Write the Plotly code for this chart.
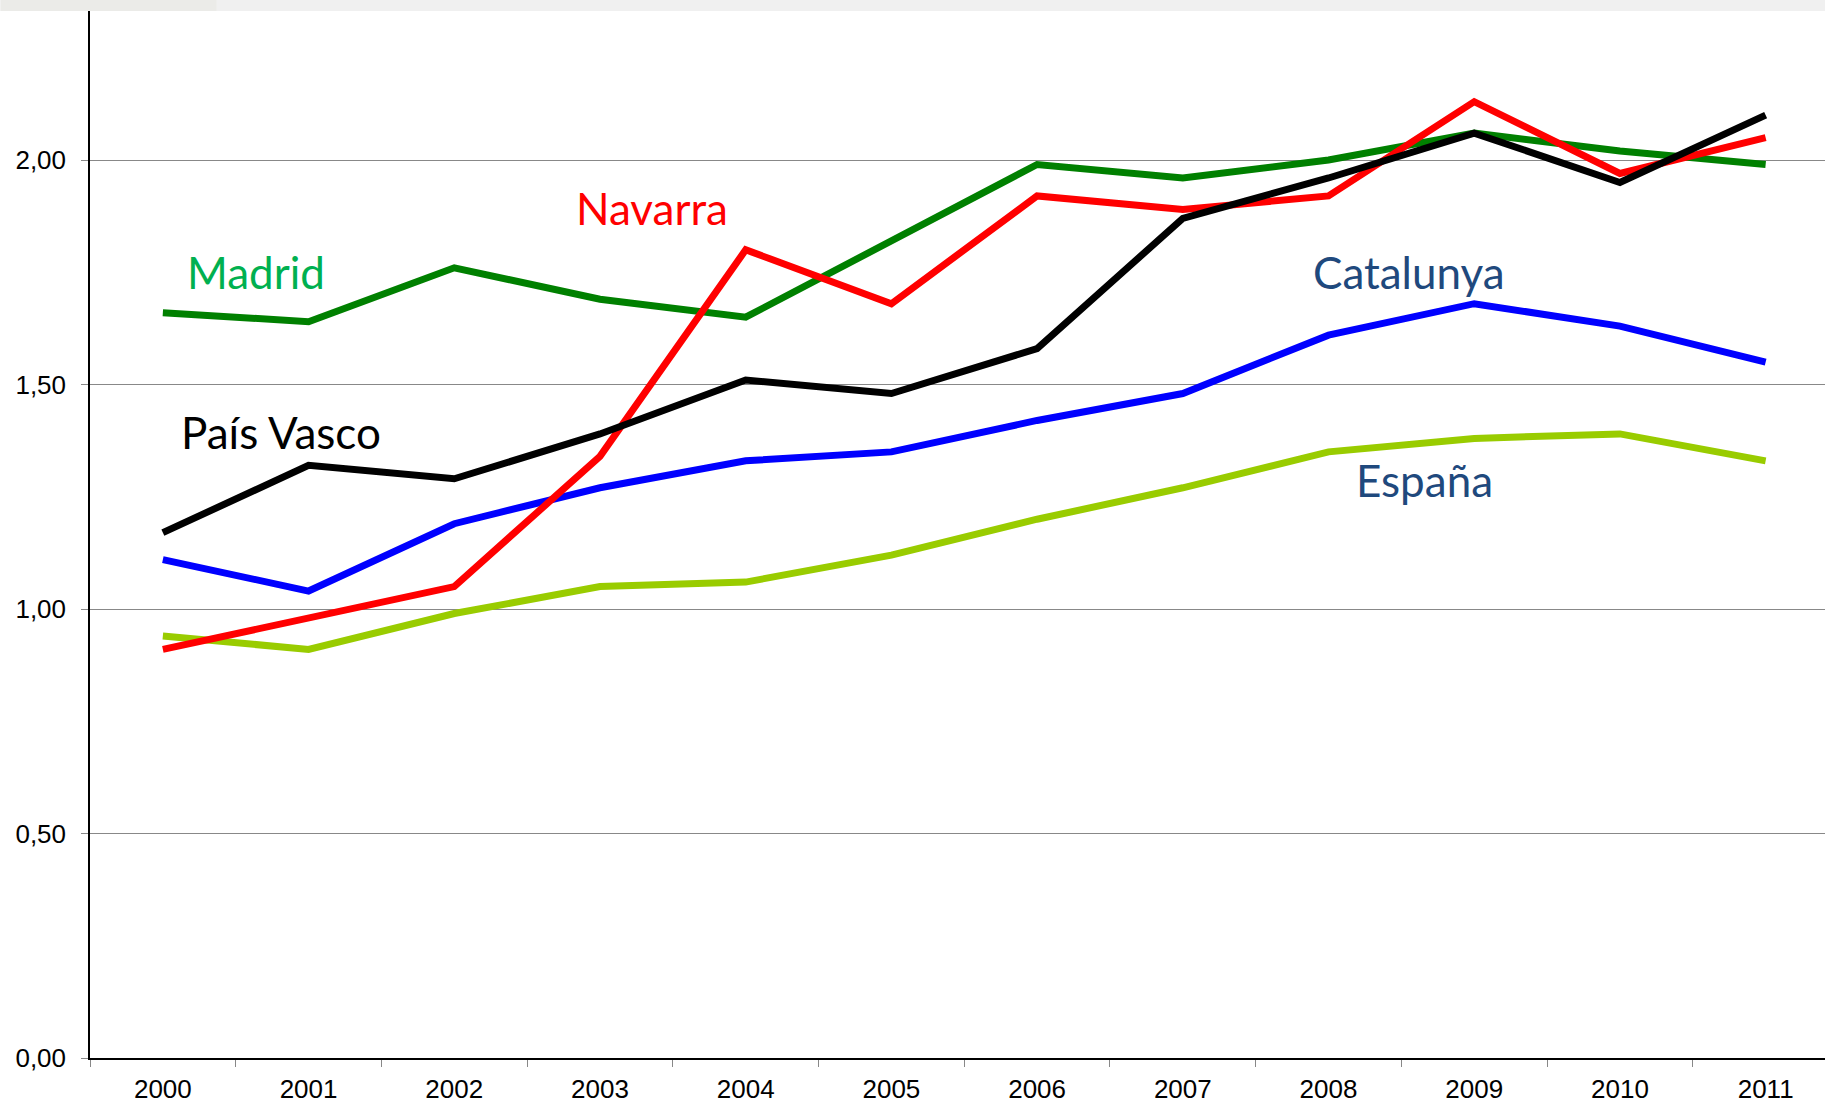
import plotly.graph_objects as go

years = ["2000", "2001", "2002", "2003", "2004", "2005", "2006", "2007", "2008", "2009", "2010", "2011"]

espana = [0.94, 0.91, 0.99, 1.05, 1.06, 1.12, 1.20, 1.27, 1.35, 1.38, 1.39, 1.33]
catalunya = [1.11, 1.04, 1.19, 1.27, 1.33, 1.35, 1.42, 1.48, 1.61, 1.68, 1.63, 1.55]
madrid = [1.66, 1.64, 1.76, 1.69, 1.65, 1.82, 1.99, 1.96, 2.00, 2.06, 2.02, 1.99]
navarra = [0.91, 0.98, 1.05, 1.34, 1.80, 1.68, 1.92, 1.89, 1.92, 2.13, 1.97, 2.05]
pais_vasco = [1.17, 1.32, 1.29, 1.39, 1.51, 1.48, 1.58, 1.87, 1.96, 2.06, 1.95, 2.10]

y_ticks = [0.0, 0.5, 1.0, 1.5, 2.0]
y_tick_labels = ["0,00", "0,50", "1,00", "1,50", "2,00"]

series = [
    ("España", espana, "#99CC00"),
    ("Catalunya", catalunya, "#0000FF"),
    ("Madrid", madrid, "#008000"),
    ("Navarra", navarra, "#FF0000"),
    ("País Vasco", pais_vasco, "#000000"),
]

labels = [
    ("Madrid", 0.64, 1.751, "#00B050"),
    ("Navarra", 3.36, 1.893, "#FF0000"),
    ("País Vasco", 0.81, 1.395, "#000000"),
    ("Catalunya", 8.55, 1.751, "#1F497D"),
    ("España", 8.66, 1.288, "#1F497D"),
]

fig = go.Figure()
for name, vals, color in series:
    fig.add_trace(go.Scatter(
        x=years, y=vals, mode="lines", name=name,
        line=dict(color=color, width=7), showlegend=False,
    ))

for text, xv, yv, color in labels:
    fig.add_annotation(
        x=xv, y=yv, xref="x", yref="y", text=text, showarrow=False,
        font=dict(family="Lato", size=44, color=color),
        xanchor="center", yanchor="middle",
    )

W, H = 1825, 1102
left, top, bottom = 89.5, 11, 43.5
plot_h = H - top - bottom
cat_w = 145.75

fig.add_shape(type="rect", xref="paper", yref="paper",
              x0=-left / (W - left), x1=1.0, y0=1.0, y1=1.0 + top / plot_h,
              fillcolor="#F0F0F0", line=dict(width=0), layer="below")
fig.add_shape(type="rect", xref="paper", yref="paper",
              x0=-left / (W - left), x1=(216 - left) / (W - left), y0=1.0, y1=1.0 + top / plot_h,
              fillcolor="#EBEBE8", line=dict(width=0), layer="below")

fig.update_layout(
    width=W, height=H,
    margin=dict(l=left, r=0, t=top, b=bottom, pad=0, autoexpand=False),
    paper_bgcolor="white", plot_bgcolor="white",
    xaxis=dict(
        type="category",
        range=[-0.5, -0.5 + (W - left) / cat_w],
        tickson="boundaries",
        ticks="outside", ticklen=7, tickcolor="#888888", tickwidth=1,
        showgrid=False, showline=True, linecolor="black", linewidth=1.5,
        tickfont=dict(family="Liberation Sans", size=26, color="black"),
        ticklabelstandoff=7,
        zeroline=False, automargin=False,
    ),
    yaxis=dict(
        range=[0, plot_h / 449.2],
        tickvals=y_ticks, ticktext=y_tick_labels,
        ticks="outside", ticklen=7, tickcolor="#888888", tickwidth=1,
        showgrid=True, gridcolor="#888888", gridwidth=1,
        showline=True, linecolor="black", linewidth=1.5,
        tickfont=dict(family="Liberation Sans", size=26, color="black"),
        ticklabelstandoff=10,
        zeroline=False, automargin=False,
    ),
)

fig.write_html(
    "out.html",
    config={"displayModeBar": False},
    post_script="document.body.style.margin='0';document.body.style.overflow='hidden';",
)
